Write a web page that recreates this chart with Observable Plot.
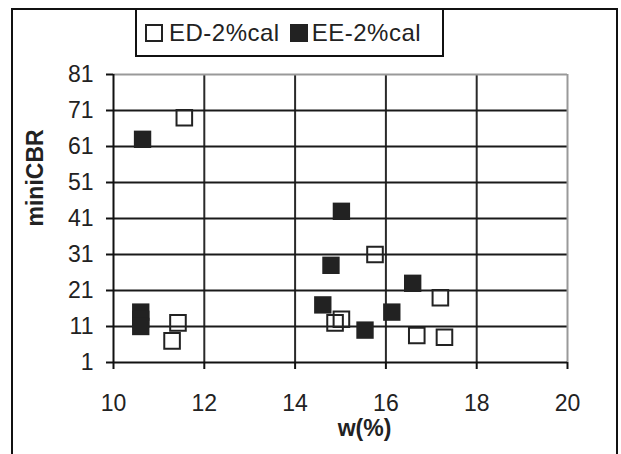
<!DOCTYPE html>
<html>
<head>
<meta charset="utf-8">
<script src="https://cdn.jsdelivr.net/npm/d3@7"></script>
<script src="https://cdn.jsdelivr.net/npm/@observablehq/plot@0.6"></script>
<style>
  body { margin: 0; background: #fff; }
  #chart { position: relative; width: 621px; height: 454px; overflow: hidden;
           font-family: "Liberation Sans", Arial, sans-serif; }
  #chart svg { position: absolute; left: 0; top: 0; }
  #frame { position: absolute; left: 11px; top: 8px; width: 607px; height: 470px;
           border: 2px solid #111; border-bottom: none; box-sizing: border-box; }
  #legend { position: absolute; left: 135px; top: 8px; width: 309px; height: 49px;
            border: 2px solid #111; box-sizing: border-box; background: #fff;
            display: flex; align-items: center; padding-left: 8px;
            font-size: 24px; letter-spacing: 0.5px; color: #222; white-space: nowrap; }
  .sw { display: inline-block; width: 18px; height: 18px; box-sizing: border-box; }
  .sw.open { border: 2px solid #222; margin-right: 6px; }
  .sw.fill { background: #222; margin-left: 10px; margin-right: 4px; }
</style>
</head>
<body>
<div id="chart">
  <div id="frame"></div>
  <div id="legend"></div>
</div>
<script>
// Series names
const seriesNames = ["ED-2%cal", "EE-2%cal"];

// ED-2%cal: water content w(%) and miniCBR
const edW   = [11.56, 11.42, 11.29, 15.76, 17.20, 15.02, 14.88, 16.68, 17.29];
const edCBR = [69,    12,    7,     31,    19,    13,    12,    8.5,   8];

// EE-2%cal: water content w(%) and miniCBR
const eeW   = [10.64, 10.60, 10.60, 10.60, 15.02, 14.79, 16.59, 14.61, 16.13, 15.54];
const eeCBR = [63,    15,    13,    11,    43,    28,    23,    17,    15,    10];

// Axis ticks
const xTicks = [10, 12, 14, 16, 18, 20];
const yTicks = [1, 11, 21, 31, 41, 51, 61, 71, 81];

const ed = edW.map((w, i) => ({w, cbr: edCBR[i]}));
const ee = eeW.map((w, i) => ({w, cbr: eeCBR[i]}));

const ink = "#222";
const fontSize = 23;

const plot = Plot.plot({
  width: 621,
  height: 454,
  marginLeft: 113,
  marginRight: 54,
  marginTop: 74,
  marginBottom: 92,
  style: { fontFamily: '"Liberation Sans", Arial, sans-serif', fontSize: fontSize + "px", color: ink, background: "transparent", overflow: "visible" },
  x: { domain: [10, 20], ticks: xTicks },
  y: { domain: [1, 81], ticks: yTicks },
  marks: [
    // inner grid lines
    Plot.ruleX(xTicks.slice(1, -1), { stroke: "#2a2a2a", strokeWidth: 2 }),
    Plot.ruleY(yTicks.slice(1, -1), { stroke: "#1a1a1a", strokeWidth: 2 }),
    // grey plot-area edges at the top and right
    Plot.ruleY([yTicks[yTicks.length - 1]], { stroke: "#999", strokeWidth: 2 }),
    Plot.ruleX([xTicks[xTicks.length - 1]], { stroke: "#999", strokeWidth: 2 }),
    // axes
    Plot.axisX({ ticks: xTicks, tickSize: 7, tickPadding: 25, label: null, stroke: "#111", strokeWidth: 2, fill: ink }),
    Plot.axisY({ ticks: yTicks, tickSize: 7, tickPadding: 13, label: null, stroke: "#111", strokeWidth: 2, fill: ink }),
    Plot.ruleX([xTicks[0]], { stroke: "#111", strokeWidth: 2 }),
    Plot.ruleY([yTicks[0]], { stroke: "#111", strokeWidth: 2 }),
    // data
    Plot.dot(ed, { x: "w", y: "cbr", symbol: "square", r: 8.8, fill: "none", stroke: ink, strokeWidth: 2 }),
    Plot.dot(ee, { x: "w", y: "cbr", symbol: "square", r: 9.8, fill: ink, stroke: "none" }),
    // axis titles
    Plot.text(["miniCBR"], { frameAnchor: "left", rotate: -90, dx: -78, dy: 8, fontWeight: "bold", fontSize: fontSize, fill: ink }),
    Plot.text(["w(%)"], { frameAnchor: "bottom", dx: 24, dy: 73, fontWeight: "bold", fontSize: fontSize, fill: ink })
  ]
});

const chart = document.getElementById("chart");
chart.insertBefore(plot, chart.firstChild);

// legend
const legend = document.getElementById("legend");
legend.innerHTML =
  `<span class="sw open"></span><span>${seriesNames[0]}</span>` +
  `<span class="sw fill"></span><span>${seriesNames[1]}</span>`;
</script>
</body>
</html>
